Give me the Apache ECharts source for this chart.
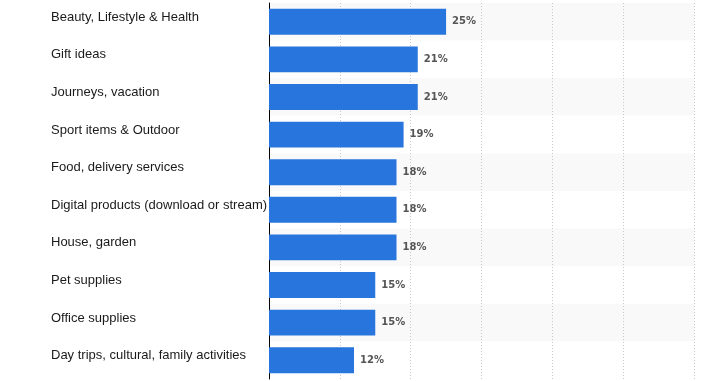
<!DOCTYPE html>
<html>
<head>
<meta charset="utf-8">
<script src="https://cdn.jsdelivr.net/npm/echarts@6/dist/echarts.min.js"></script>
<style>html,body{margin:0;padding:0;background:#fff;}#c{width:717px;height:381px;}</style>
</head>
<body>
<div id="c"></div>
<script>
var categories = [
  "Beauty, Lifestyle & Health",
  "Gift ideas",
  "Journeys, vacation",
  "Sport items & Outdoor",
  "Food, delivery services",
  "Digital products (download or stream)",
  "House, garden",
  "Pet supplies",
  "Office supplies",
  "Day trips, cultural, family activities"
];
var values = [25, 21, 21, 19, 18, 18, 18, 15, 15, 12];
var axisMax = 60;
var axisStep = 10;

var chart = echarts.init(document.getElementById('c'), null, {renderer: 'canvas'});
chart.setOption({
  animation: false,
  grid: {left: 269, right: 23, top: 3, bottom: 2, containLabel: false},
  xAxis: {
    type: 'value', min: 0, max: axisMax, interval: axisStep,
    axisLine: {show: false}, axisTick: {show: false}, axisLabel: {show: false},
    splitLine: {show: true, lineStyle: {color: '#c8c8c8', type: [1, 2], width: 1}}
  },
  yAxis: {
    type: 'category', data: categories, inverse: true,
    axisLine: {show: true, onZero: false, lineStyle: {color: '#000', width: 1}},
    axisTick: {show: false},
    splitArea: {show: true, areaStyle: {color: ['#f9f9f9', '#ffffff']}},
    axisLabel: {
      align: 'left', margin: 218,
      formatter: function (v) { return '{t|' + v + '}'; },
      rich: {
        t: {
          color: '#1a1a1a', fontSize: 13,
          fontFamily: 'Liberation Sans, Arial, sans-serif',
          padding: [0, 0, 9, 0]
        }
      }
    }
  },
  series: [{
    type: 'bar', data: values, barCategoryGap: '31%',
    itemStyle: {color: '#2876dd'},
    label: {
      show: true, position: 'right', distance: 6,
      formatter: '{c}%', color: '#555', fontSize: 10, fontWeight: 'bold',
      fontFamily: 'DejaVu Sans, sans-serif'
    }
  }]
});
</script>
</body>
</html>
